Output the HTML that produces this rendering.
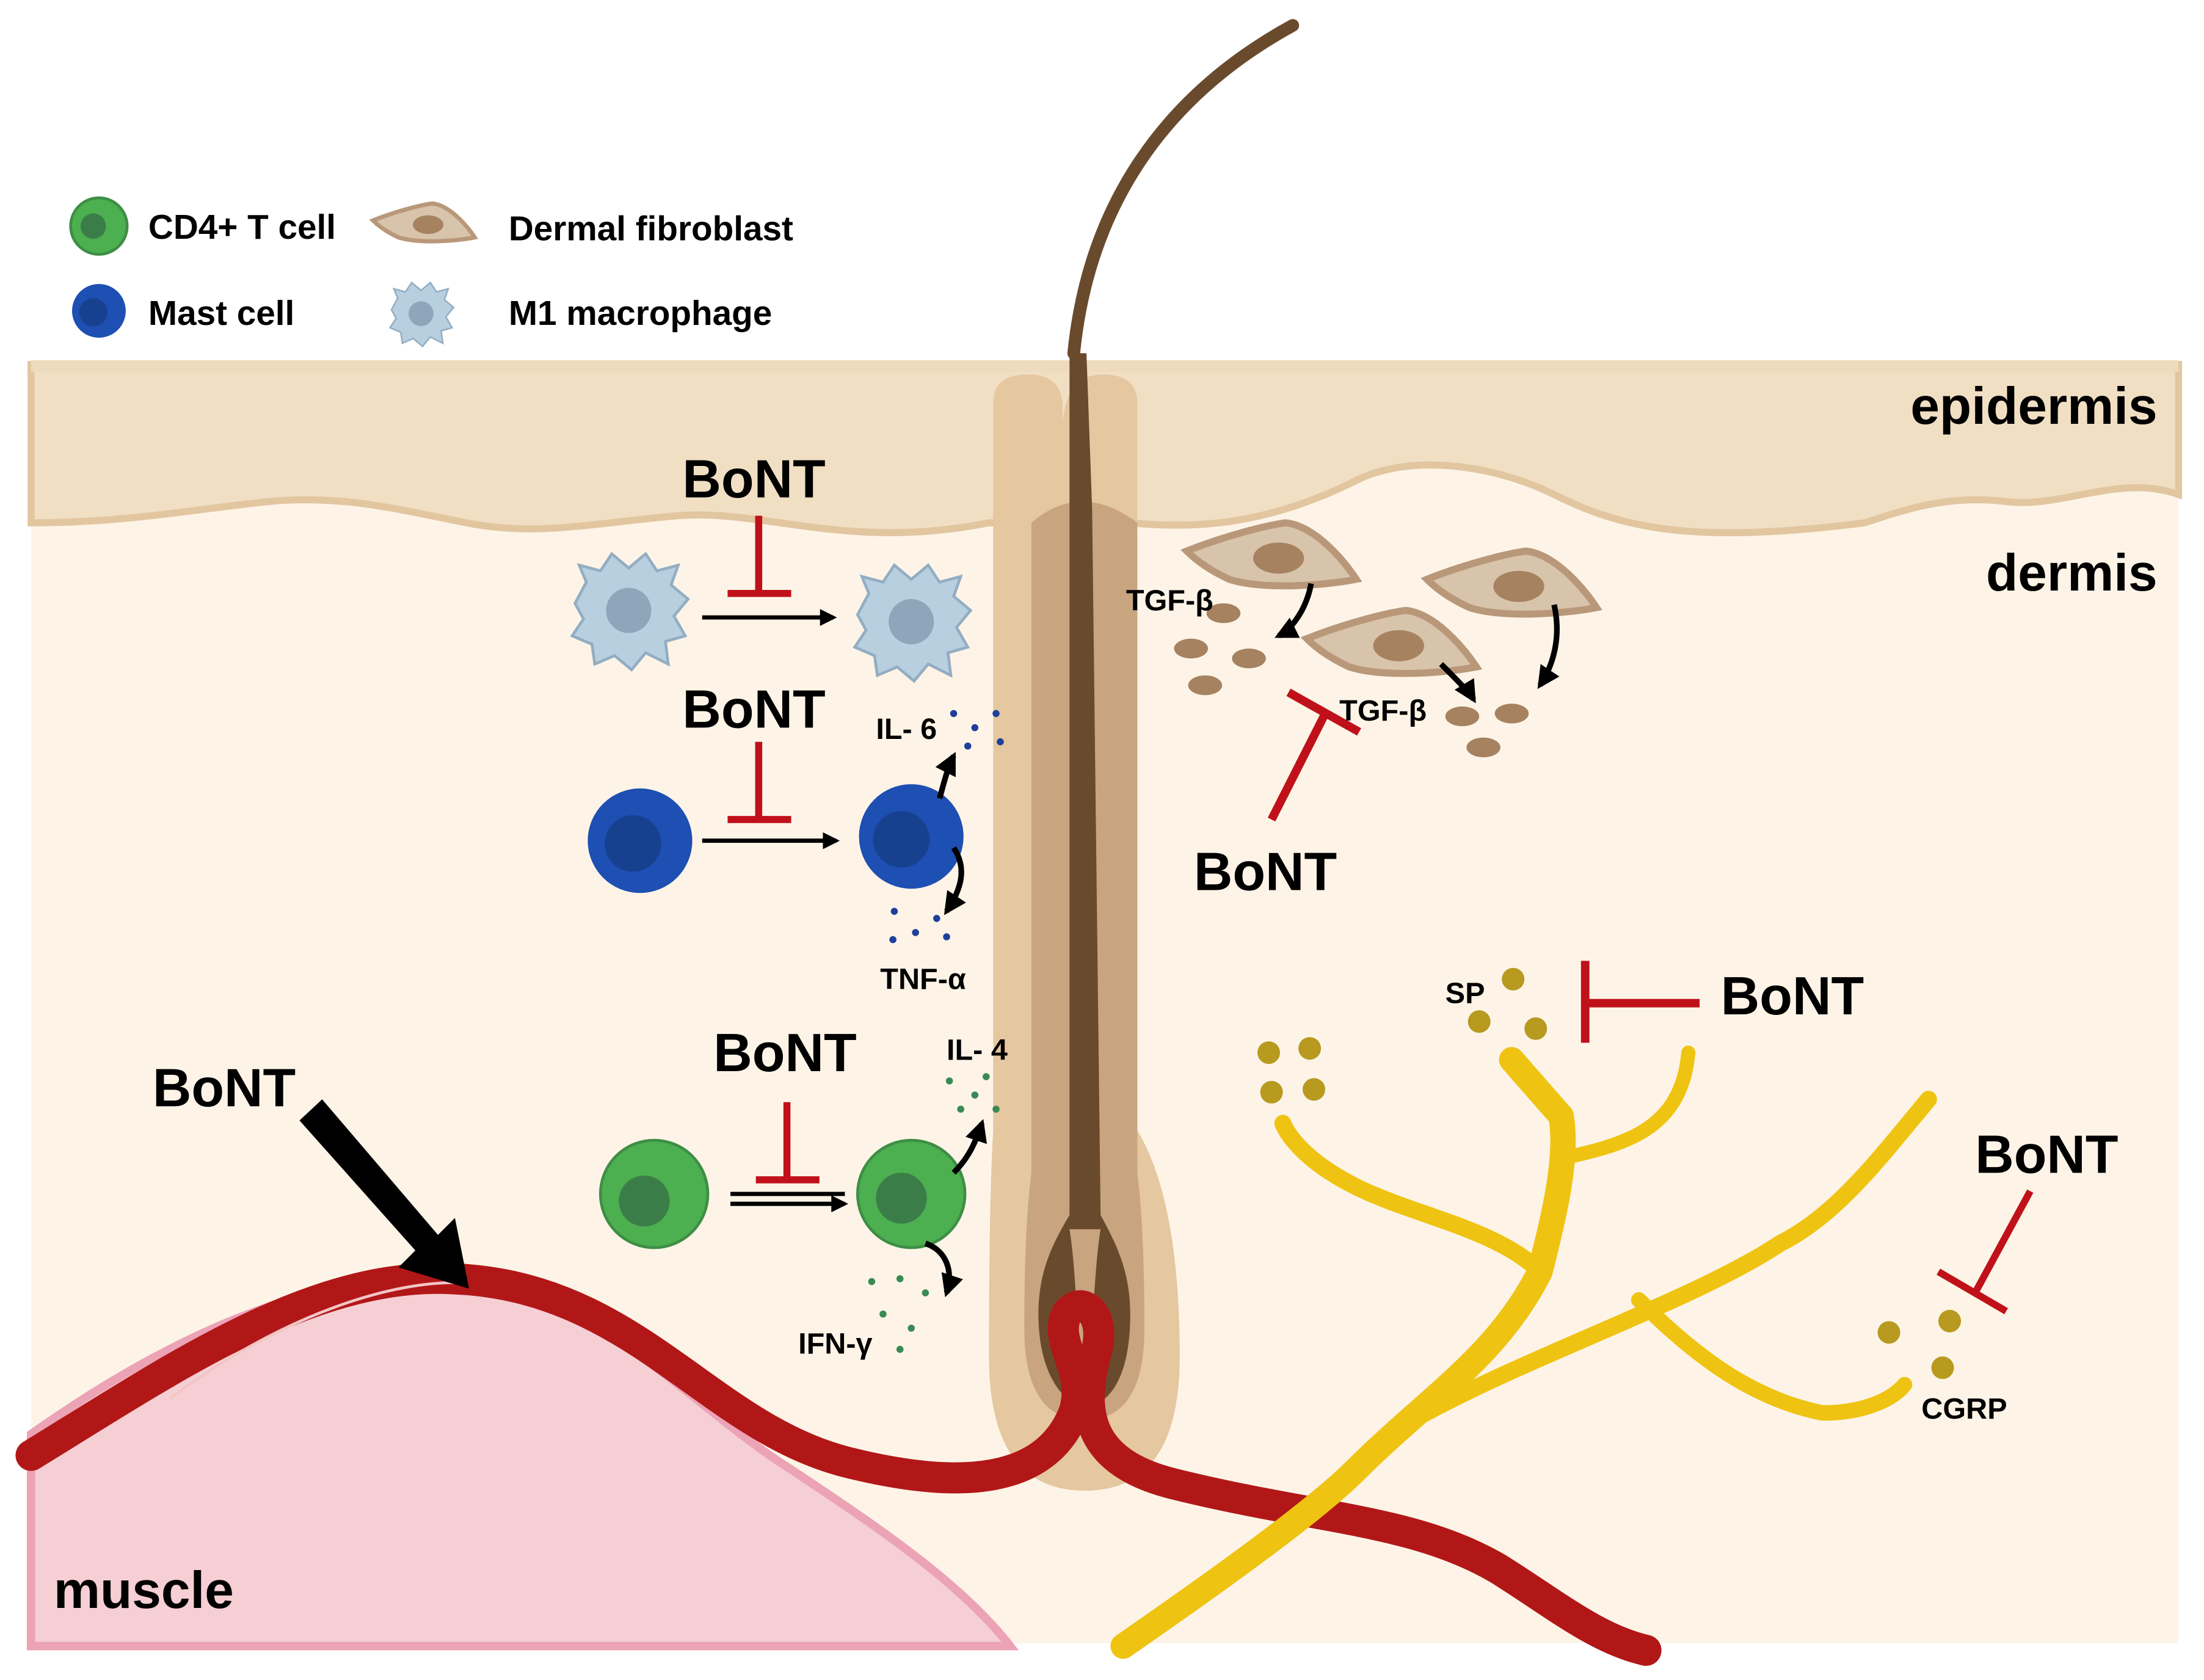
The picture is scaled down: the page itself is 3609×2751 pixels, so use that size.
<!DOCTYPE html>
<html><head><style>html,body{margin:0;padding:0;background:#fff;}svg{display:block;}</style></head>
<body>
<svg width="3609" height="2751" viewBox="0 0 1560 1189" preserveAspectRatio="none" xmlns="http://www.w3.org/2000/svg" font-family="Liberation Sans, DejaVu Sans, sans-serif" font-weight="bold">
<defs>
<marker id="ah" viewBox="0 0 10 10" refX="8" refY="5" markerWidth="4" markerHeight="4" orient="auto"><path d="M0,0 L10,5 L0,10 z" fill="#000"/></marker>
<g id="mac"><path d="M-38,-5 L-30,-20 L-35,-32 L-20,-28 L-12,-40 L0,-30 L12,-40 L20,-28 L35,-32 L30,-18 L42,-8 L32,4 L40,18 L26,22 L28,38 L12,30 L2,42 L-10,32 L-24,38 L-26,24 L-40,18 L-32,6 z" fill="#b8cfe0" stroke="#93adc2" stroke-width="2"/><circle r="16" fill="#8ea5ba"/></g>
<g id="fib"><path d="M-65,-10 C-40,-20 -10,-28 5,-30 C25,-28 45,-5 55,10 C35,14 -10,18 -35,10 C-48,4 -58,-3 -65,-10 z" fill="#d8c4aa" stroke="#b9987a" stroke-width="5"/><ellipse cx="0" cy="-5" rx="18" ry="11" fill="#a68260"/></g>
</defs>
<rect width="1560" height="1189" fill="#fff"/>
<rect x="22" y="258" width="1520" height="905" fill="#fdf4e7"/>
<path d="M22,258 L1542,258 L1542,350 C1500,335 1460,360 1420,355 C1380,350 1350,360 1320,370 C1200,385 1150,375 1100,350 C1060,330 1000,320 960,340 C900,370 850,375 800,370 L700,370 C600,390 540,360 480,365 C420,370 380,380 330,370 C280,360 240,350 190,355 C140,360 90,370 22,370 z" fill="#f1dfc4" stroke="#e2c6a0" stroke-width="5"/>
<rect x="22" y="255" width="1520" height="8" fill="#eedbbd"/>
<path d="M22,1015 C100,960 200,905 300,905 C420,905 480,990 560,1040 C620,1080 680,1120 715,1165 L22,1165 z" fill="#f5cfd3" stroke="#eba3b5" stroke-width="6"/>
<path d="M703,285 Q703,265 728,265 Q750,265 752,285 L752,300 Q755,265 780,265 Q805,265 805,285 L805,800 Q835,850 835,960 Q835,1055 768,1055 Q700,1055 700,960 Q700,850 703,800 z" fill="#e5c7a0"/>
<path d="M730,370 Q765,340 805,370 L805,830 Q810,870 810,940 Q810,1005 768,1005 Q725,1005 725,940 Q725,870 730,830 z" fill="#c8a47f"/>
<path d="M760,250 C770,150 820,70 915,18" fill="none" stroke="#6a4a2d" stroke-width="9" stroke-linecap="round"/>
<path d="M757,250 L757,860 C745,880 735,900 735,930 C735,975 755,995 768,995 C785,995 800,975 800,930 C800,900 790,880 779,860 L773,360 L769,250 z" fill="#6a4a2d"/>
<path d="M757,870 C762,900 762,950 768,985 C774,950 774,900 779,870" fill="#c8a47f"/>
<path d="M22,1030 C120,970 220,900 320,905 C450,910 500,1010 600,1035 C680,1055 740,1050 760,1000 C770,970 745,950 755,930 C765,915 785,930 775,960 C765,1000 770,1035 830,1050 C930,1075 1000,1075 1060,1110 C1100,1135 1130,1160 1165,1168" fill="none" stroke="#b21718" stroke-width="22" stroke-linecap="round"/>
<path d="M120,990 C200,930 280,905 330,908" fill="none" stroke="#f3c5c5" stroke-width="2"/>
<g fill="none" stroke="#efc312" stroke-linecap="round" stroke-linejoin="round">
<path d="M795,1165 C860,1120 930,1070 960,1040 C1010,990 1060,960 1090,900 C1100,860 1110,820 1105,790 L1070,750" stroke-width="18"/>
<path d="M1090,900 C1060,870 1000,860 960,840 C920,820 910,800 908,795" stroke-width="12"/>
<path d="M1105,820 C1150,810 1190,800 1195,745" stroke-width="10"/>
<path d="M1000,1005 C1080,960 1200,920 1260,880 C1300,860 1330,820 1365,778" stroke-width="12"/>
<path d="M1160,920 C1200,960 1240,990 1290,1000 C1320,1000 1340,990 1348,980" stroke-width="11"/>
</g>
<g fill="#b79a1f"><circle cx="898" cy="745" r="8"/><circle cx="927" cy="742" r="8"/><circle cx="900" cy="773" r="8"/><circle cx="930" cy="771" r="8"/>
<circle cx="1071" cy="693" r="8"/><circle cx="1047" cy="723" r="8"/><circle cx="1087" cy="728" r="8"/>
<circle cx="1337" cy="943" r="8"/><circle cx="1380" cy="935" r="8"/><circle cx="1375" cy="968" r="8"/></g>
<circle cx="70" cy="160" r="20" fill="#4caf50" stroke="#3e8e45" stroke-width="2"/><circle cx="66" cy="160" r="9" fill="#3b7d48"/>
<circle cx="70" cy="220" r="19" fill="#1e4fb2"/><circle cx="66" cy="221" r="10" fill="#17408f"/>
<g transform="translate(303,162) scale(0.6)"><use href="#fib"/></g>
<g transform="translate(298,222) scale(0.55)"><use href="#mac"/></g>
<text x="105" y="169" font-size="24.5">CD4+ T cell</text>
<text x="105" y="230" font-size="24.5">Mast cell</text>
<text x="360" y="170" font-size="24.5">Dermal fibroblast</text>
<text x="360" y="230" font-size="24.5">M1 macrophage</text>
<text x="1527" y="300" font-size="37" text-anchor="end">epidermis</text>
<text x="1527" y="418" font-size="37" text-anchor="end">dermis</text>
<text x="38" y="1138" font-size="37">muscle</text>
<use href="#mac" transform="translate(445,432)"/><use href="#mac" transform="translate(645,440)"/>
<circle cx="453" cy="595" r="37" fill="#1e4fb2"/><circle cx="448" cy="597" r="20" fill="#17408f"/>
<circle cx="645" cy="592" r="37" fill="#1e4fb2"/><circle cx="638" cy="594" r="20" fill="#17408f"/>
<circle cx="463" cy="845" r="38" fill="#4caf50" stroke="#3e8e45" stroke-width="2"/><circle cx="456" cy="850" r="18" fill="#3b7d48"/>
<circle cx="645" cy="845" r="38" fill="#4caf50" stroke="#3e8e45" stroke-width="2"/><circle cx="638" cy="848" r="18" fill="#3b7d48"/>
<g fill="#1e3f9a"><circle cx="675" cy="505" r="2.5"/><circle cx="690" cy="515" r="2.5"/><circle cx="705" cy="505" r="2.5"/><circle cx="708" cy="525" r="2.5"/><circle cx="685" cy="528" r="2.5"/>
<circle cx="633" cy="645" r="2.5"/><circle cx="648" cy="660" r="2.5"/><circle cx="663" cy="650" r="2.5"/><circle cx="632" cy="665" r="2.5"/><circle cx="670" cy="663" r="2.5"/></g>
<g fill="#3a8a55"><circle cx="672" cy="765" r="2.5"/><circle cx="690" cy="775" r="2.5"/><circle cx="698" cy="762" r="2.5"/><circle cx="705" cy="785" r="2.5"/><circle cx="680" cy="785" r="2.5"/>
<circle cx="617" cy="907" r="2.5"/><circle cx="637" cy="905" r="2.5"/><circle cx="655" cy="915" r="2.5"/><circle cx="625" cy="930" r="2.5"/><circle cx="645" cy="940" r="2.5"/><circle cx="637" cy="955" r="2.5"/></g>
<use href="#fib" transform="translate(905,400)"/><use href="#fib" transform="translate(1075,420)"/><use href="#fib" transform="translate(990,462)"/>
<g fill="#a68260"><ellipse cx="843" cy="459" rx="12" ry="7"/><ellipse cx="884" cy="466" rx="12" ry="7"/><ellipse cx="853" cy="485" rx="12" ry="7"/><ellipse cx="866" cy="434" rx="12" ry="7"/>
<ellipse cx="1035" cy="507" rx="12" ry="7"/><ellipse cx="1070" cy="505" rx="12" ry="7"/><ellipse cx="1050" cy="529" rx="12" ry="7"/></g>
<g fill="none" stroke="#000" stroke-width="4" marker-end="url(#ah)">
<path d="M928,413 C925,430 915,445 905,450"/><path d="M1100,428 C1105,450 1100,470 1090,485"/><path d="M1020,470 C1030,480 1040,490 1043,495"/>
<path d="M665,565 C668,555 670,545 675,535"/><path d="M675,600 C685,615 680,630 670,645"/>
<path d="M675,830 C685,820 690,810 695,795"/><path d="M655,880 C670,885 675,900 670,915"/>
<path d="M497,437 L590,437" stroke-width="3"/><path d="M497,595 L592,595" stroke-width="3"/>
<path d="M517,852 L598,852" stroke-width="3"/>
</g>
<line x1="517" y1="845" x2="598" y2="845" stroke="#000" stroke-width="3"/>
<path d="M228,778 L212,793 L294,885 L282,897 L332,912 L322,862 L310,874 z" fill="#000"/>
<g stroke="#c0111a" stroke-width="5" fill="none">
<path d="M537,365 L537,420 M515,420 L560,420"/>
<path d="M537,525 L537,580 M515,580 L560,580"/>
<path d="M557,780 L557,835 M535,835 L580,835"/>
<path d="M900,580 L938,505 M912,490 L962,518" stroke-width="6"/>
<path d="M1122,680 L1122,738 M1122,710 L1203,710" stroke-width="6"/>
<path d="M1437,843 L1398,915 M1372,900 L1420,928"/>
</g>
<g font-size="38"><text x="483" y="352">BoNT</text><text x="483" y="515">BoNT</text><text x="505" y="758">BoNT</text><text x="108" y="783">BoNT</text><text x="845" y="630">BoNT</text><text x="1218" y="718">BoNT</text><text x="1398" y="830">BoNT</text></g>
<g font-size="21"><text x="797" y="432">TGF-β</text><text x="948" y="510">TGF-β</text><text x="620" y="523">IL- 6</text><text x="623" y="700">TNF-α</text><text x="670" y="750">IL- 4</text><text x="565" y="958">IFN-γ</text><text x="1023" y="710">SP</text><text x="1360" y="1004">CGRP</text></g>
</svg>
</body></html>
